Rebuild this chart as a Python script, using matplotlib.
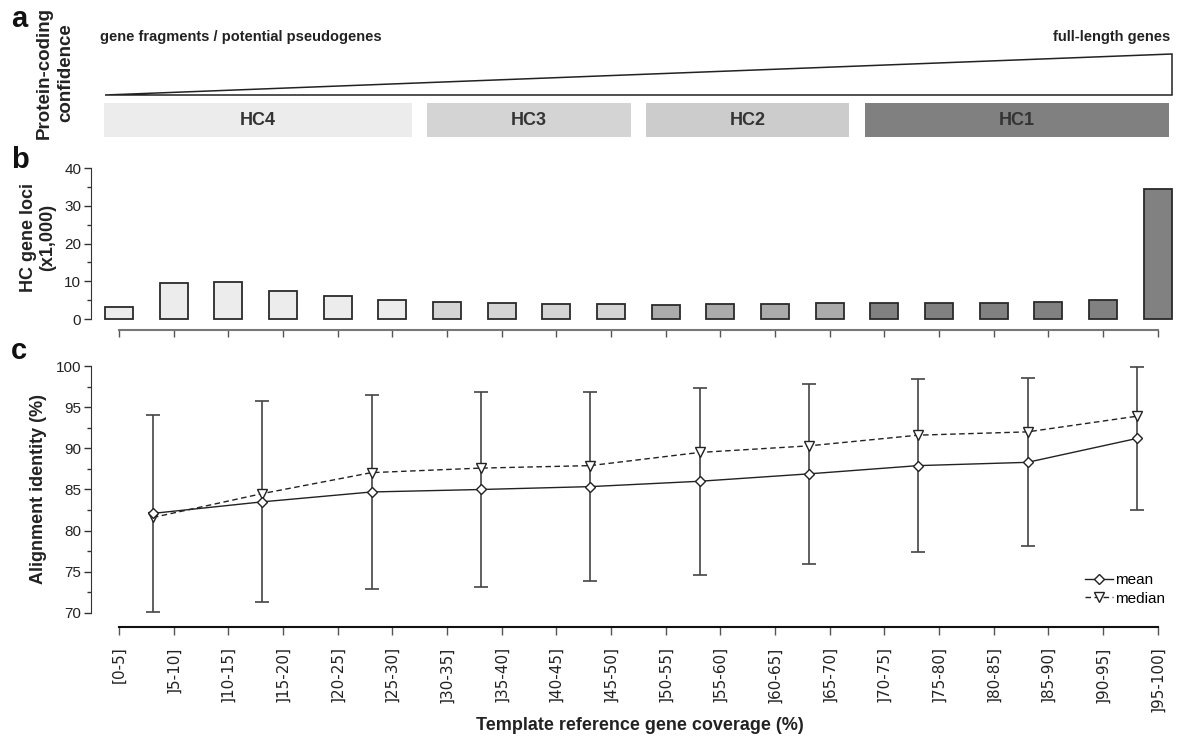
import matplotlib
matplotlib.use("Agg")
import matplotlib.pyplot as plt
from matplotlib.patches import Polygon, Rectangle
from matplotlib.ticker import MultipleLocator

plt.rcParams['font.family'] = ['Liberation Sans', 'DejaVu Sans']

# ---- data -------------------------------------------------------------
coverage_bins = ["[0-5]", "]5-10]", "]10-15]", "]15-20]", "]20-25]", "]25-30]",
                 "]30-35]", "]35-40]", "]40-45]", "]45-50]", "]50-55]", "]55-60]",
                 "]60-65]", "]65-70]", "]70-75]", "]75-80]", "]80-85]", "]85-90]",
                 "]90-95]", "]95-100]"]
hc_loci_k = [3.1, 9.45, 9.7, 7.5, 6.0, 5.1, 4.6, 4.2, 4.05, 3.85,
             3.8, 3.9, 3.9, 4.15, 4.3, 4.3, 4.3, 4.4, 5.0, 34.5]
hc_class = ["HC4"] * 6 + ["HC3"] * 4 + ["HC2"] * 4 + ["HC1"] * 6
hc_order = ["HC4", "HC3", "HC2", "HC1"]

identity_mean = [82.1, 83.5, 84.7, 85.0, 85.35, 86.0, 86.9, 87.9, 88.3, 91.2]
identity_sd = [12.0, 12.2, 11.8, 11.85, 11.45, 11.35, 10.9, 10.5, 10.2, 8.65]
identity_median = [81.6, 84.5, 87.05, 87.6, 87.9, 89.5, 90.3, 91.6, 92.0, 93.9]

# ---- styling ----------------------------------------------------------
bar_colors = {"HC4": "#ececec", "HC3": "#d5d5d5", "HC2": "#ababab", "HC1": "#818181"}
box_colors = {"HC4": "#ececec", "HC3": "#d4d4d4", "HC2": "#cccccc", "HC1": "#808080"}
BAR_W = 0.51
W, H = 1184, 745

fig = plt.figure(figsize=(W / 100, H / 100), dpi=100)


def px_axes(left, top, right, bottom):
    return fig.add_axes([left / W, 1 - bottom / H, (right - left) / W, (bottom - top) / H])


def ftext(x, y, s, **kw):
    return fig.text(x / W, 1 - y / H, s, **kw)


n = len(coverage_bins)
xs = list(range(n))
xlim = (-0.512, 19.3)

# ---- panel a: confidence wedge and HC classes ----------------------------
ax_a = px_axes(91, 50, 1174, 140)
ax_a.set_xlim(xlim)
ax_a.set_ylim(0, 1)
ax_a.axis("off")

x_left = -BAR_W / 2
x_right = n - 1 + BAR_W / 2
ax_a.add_patch(Polygon([(x_left, 0.5), (x_right, 0.5), (x_right, 0.956)], closed=True,
                       facecolor="white", edgecolor="#222222", linewidth=1.1))

gap = 0.14
for cls in hc_order:
    idx = [i for i, c in enumerate(hc_class) if c == cls]
    first, last = idx[0], idx[-1]
    left = first - 0.5 + gap if first > 0 else x_left - 0.015
    right = last + 0.5 - gap if last < n - 1 else x_right - 0.045
    ax_a.add_patch(Rectangle((left, 0.033), right - left, 0.378,
                             facecolor=box_colors[cls], edgecolor="none"))
    ax_a.text((left + right) / 2, 0.033 + 0.378 / 2, cls, ha="center", va="center",
              fontsize=13, fontweight="bold", color="#333333")

ftext(100, 41, "gene fragments / potential pseudogenes", fontsize=10.5,
      fontweight="bold", color="#222222", va="baseline", ha="left")
ftext(1170, 41, "full-length genes", fontsize=10.5, fontweight="bold",
      color="#222222", va="baseline", ha="right")
ftext(55, 73, "Protein-coding\nconfidence", rotation=90, fontsize=13.5,
      fontweight="bold", color="#222222", ha="center", va="center",
      linespacing=1.3, multialignment="center")

# ---- panel b: HC gene loci per coverage bin ------------------------------
ax_b = px_axes(91, 168, 1174, 319)
ax_b.bar(xs, hc_loci_k, width=BAR_W, color=[bar_colors[c] for c in hc_class],
         edgecolor="#2a2a2a", linewidth=1.3, clip_on=False, zorder=3)
ax_b.set_xlim(xlim)
ax_b.set_ylim(0, 40)
ax_b.yaxis.set_major_locator(MultipleLocator(10))
ax_b.yaxis.set_minor_locator(MultipleLocator(5))
for s in ("top", "right"):
    ax_b.spines[s].set_visible(False)
ax_b.spines["left"].set_bounds(0, 40)
ax_b.spines["left"].set_color("#333333")
ax_b.spines["bottom"].set_position(("outward", 8))
ax_b.spines["bottom"].set_bounds(0, n - 1)
ax_b.spines["bottom"].set_color("#777777")
ax_b.spines["bottom"].set_linewidth(1.5)
ax_b.tick_params(axis="y", which="major", direction="out", length=5, width=1,
                 color="#333333", labelsize=11, labelcolor="#222222", pad=2)
ax_b.tick_params(axis="y", which="minor", direction="out", length=3, width=1, color="#333333")
ax_b.tick_params(axis="x", direction="out", length=5, width=1, color="#555555")
ax_b.set_xticks(xs)
ax_b.set_xticklabels([])
ax_b.patch.set_visible(False)

ftext(38, 237, "HC gene loci\n(x1,000)", rotation=90, fontsize=13, fontweight="bold",
      color="#222222", ha="center", va="center", linespacing=1.1,
      multialignment="center")

# ---- panel c: alignment identity ----------------------------------------
ax_c = px_axes(91, 366, 1174, 613)
xc = [2 * k + 0.62 for k in range(len(identity_mean))]
ax_c.errorbar(xc, identity_mean, yerr=identity_sd, fmt="none", ecolor="#444444",
              elinewidth=1.2, capsize=4.7, capthick=1.2, zorder=2)
ax_c.plot(xc, identity_median, linestyle=(0, (4, 2.5)), color="#222222", linewidth=1,
          marker="v", markersize=7, markerfacecolor="white", markeredgecolor="#222222",
          markeredgewidth=1, label="median", zorder=3)
ax_c.plot(xc, identity_mean, linestyle="-", color="#222222", linewidth=1,
          marker="D", markersize=5, markerfacecolor="white", markeredgecolor="#222222",
          markeredgewidth=1, label="mean", zorder=4)
ax_c.set_xlim(xlim)
ax_c.set_ylim(70, 100)
ax_c.yaxis.set_major_locator(MultipleLocator(5))
ax_c.yaxis.set_minor_locator(MultipleLocator(2.5))
for s in ("top", "right"):
    ax_c.spines[s].set_visible(False)
ax_c.spines["left"].set_bounds(70, 100)
ax_c.spines["left"].set_color("#333333")
ax_c.spines["bottom"].set_position(("outward", 10))
ax_c.spines["bottom"].set_bounds(0, n - 1)
ax_c.spines["bottom"].set_color("#111111")
ax_c.spines["bottom"].set_linewidth(1.5)
ax_c.tick_params(axis="y", which="major", direction="out", length=5, width=1,
                 color="#333333", labelsize=11, labelcolor="#222222", pad=2)
ax_c.tick_params(axis="y", which="minor", direction="out", length=3, width=1, color="#333333")
ax_c.tick_params(axis="x", direction="out", length=6, width=1, color="#555555", pad=8)
ax_c.set_xticks(xs)
ax_c.set_xticklabels(coverage_bins, rotation=90, fontsize=11, color="#222222",
                     family=["DejaVu Sans"], va="top", ha="center")
ax_c.patch.set_visible(False)

handles, labels = ax_c.get_legend_handles_labels()
order = [labels.index("mean"), labels.index("median")]
ax_c.legend([handles[i] for i in order], [labels[i] for i in order],
            loc="upper left", bbox_to_anchor=(1085 / W, 1 - 573 / H),
            bbox_transform=fig.transFigure, frameon=False, fontsize=11,
            handlelength=1.8, handletextpad=0.15, labelspacing=0.3,
            borderpad=0, borderaxespad=0)

ftext(39, 489, "Alignment identity (%)", rotation=90, fontsize=13, fontweight="bold",
      color="#222222", ha="center", va="center")
ftext(640, 725, "Template reference gene coverage (%)", fontsize=13, fontweight="bold",
      color="#222222", ha="center", va="center")

# ---- panel letters ----------------------------------------------------
for letter, y in (("a", 27), ("b", 168), ("c", 359)):
    ftext(11, y, letter, fontsize=21, fontweight="bold", color="#111111",
          ha="left", va="baseline")

fig.savefig("out.png", dpi=100)
